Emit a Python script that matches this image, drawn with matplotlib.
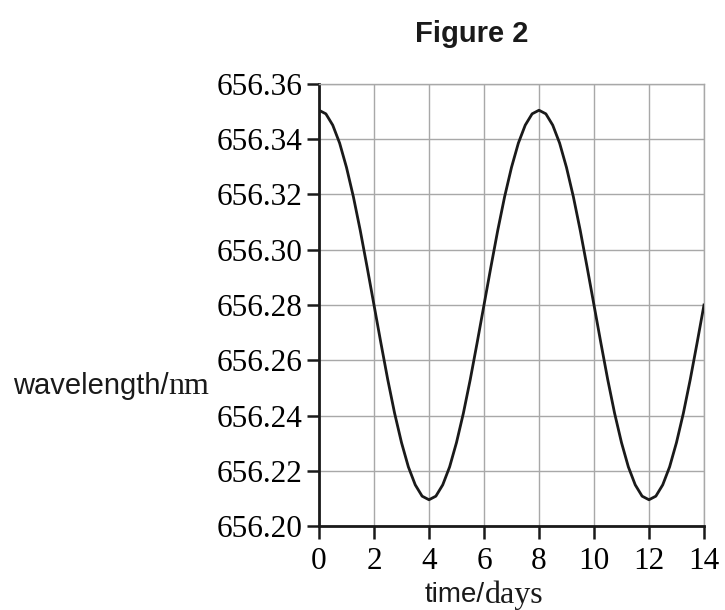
import matplotlib.pyplot as plt

# wavelength every quarter day
days = [i * 0.25 for i in range(57)]
wavelength = [
    656.3505, 656.3492, 656.3451, 656.3386, 656.3298, 656.3192, 656.3070, 656.2937,
    656.2800, 656.2663, 656.2530, 656.2408, 656.2302, 656.2214, 656.2149, 656.2108,
    656.2095, 656.2108, 656.2149, 656.2214, 656.2302, 656.2408, 656.2530, 656.2663,
    656.2800, 656.2937, 656.3070, 656.3192, 656.3298, 656.3386, 656.3451, 656.3492,
    656.3505, 656.3492, 656.3451, 656.3386, 656.3298, 656.3192, 656.3070, 656.2937,
    656.2800, 656.2663, 656.2530, 656.2408, 656.2302, 656.2214, 656.2149, 656.2108,
    656.2095, 656.2108, 656.2149, 656.2214, 656.2302, 656.2408, 656.2530, 656.2663,
    656.2800,
]
xticks = [0, 2, 4, 6, 8, 10, 12, 14]
yticks = [656.20, 656.22, 656.24, 656.26, 656.28, 656.30, 656.32, 656.34, 656.36]

fig = plt.figure(figsize=(7.25, 6.1), dpi=100)
ax = fig.add_axes([0.44, 0.1377, 0.531, 0.7246])

ax.plot(days, wavelength, color="#1a1a1a", linewidth=2, zorder=3,
        solid_joinstyle="round")
ax.set_xlim(0, 14)
ax.set_ylim(656.20, 656.36)
ax.set_xticks(xticks)
ax.set_yticks(yticks)
ax.set_xticklabels([str(t) for t in xticks], family="Liberation Serif", fontsize=22.5)
ax.set_yticklabels(["%.2f" % t for t in yticks], family="Liberation Serif", fontsize=22.5)
ax.grid(True, color="#a8a8a8", linewidth=1)
ax.tick_params(axis="both", direction="out", length=9, width=1.8, color="#1a1a1a")
ax.tick_params(axis="x", pad=6)
ax.tick_params(axis="y", pad=3)

for side in ["top", "right"]:
    ax.spines[side].set_color("#a8a8a8")
    ax.spines[side].set_linewidth(1)
for side in ["left", "bottom"]:
    ax.spines[side].set_color("#1a1a1a")
    ax.spines[side].set_linewidth(2)

fig.text(0.65, 0.944, "Figure 2", family="Liberation Sans", fontweight="bold",
         fontsize=21, ha="center", va="center", color="#1a1a1a")

# mixed fonts in the axis labels
fig.text(0.232, 0.367, "wavelength/", family="Liberation Sans", fontsize=21,
         ha="right", va="center", color="#1a1a1a")
fig.text(0.232, 0.367, "nm", family="Liberation Serif", fontsize=23,
         ha="left", va="center", color="#1a1a1a")
fig.text(0.669, 0.025, "time/", family="Liberation Sans", fontsize=20,
         ha="right", va="center", color="#1a1a1a")
fig.text(0.669, 0.025, "days", family="Liberation Serif", fontsize=23,
         ha="left", va="center", color="#1a1a1a")

plt.savefig("out.png", dpi=100)
